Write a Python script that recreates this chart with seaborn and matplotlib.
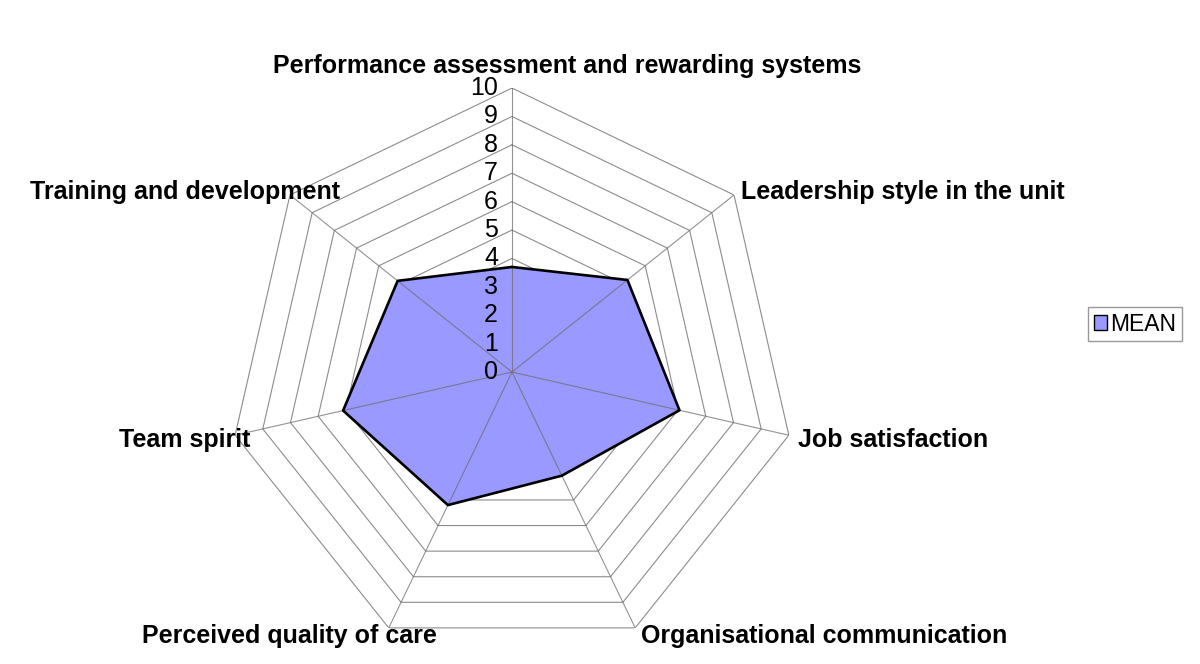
import numpy as np
import pandas as pd
import matplotlib
matplotlib.use("Agg")
import matplotlib.pyplot as plt
import seaborn as sns
from matplotlib.patches import Patch

categories = [
    "Performance assessment and rewarding systems",
    "Leadership style in the unit",
    "Job satisfaction",
    "Organisational communication",
    "Perceived quality of care",
    "Team spirit",
    "Training and development",
]
mean_values = [3.7, 5.2, 6.05, 4.05, 5.2, 6.1, 5.15]
radial_ticks = [0, 1, 2, 3, 4, 5, 6, 7, 8, 9, 10]
series_name = "MEAN"

sns.set_style("white")
plt.rcParams["font.family"] = ["Liberation Sans", "DejaVu Sans"]
plt.rcParams["text.color"] = "black"

fig = plt.figure(figsize=(12, 6.64), dpi=100)
ax = fig.add_axes([0.19, 0.012, 0.4733, 0.8554], projection="polar")
ax.set_theta_zero_location("N")
ax.set_theta_direction(-1)

n = len(categories)
angles = np.arange(n) * 2 * np.pi / n
closed_angles = np.append(angles, 2 * np.pi)

# polygonal grid rings
for r in radial_ticks[1:]:
    ax.plot(closed_angles, [r] * (n + 1), color="#8c8c8c", lw=0.8, zorder=1)

closed_vals = np.append(mean_values, mean_values[0])
ax.fill(closed_angles, closed_vals, color="#9999ff", zorder=2, lw=0)

# spokes
for a in angles:
    ax.plot([a, a], [0, radial_ticks[-1]], color="#6e6e6e", lw=0.8, alpha=0.75, zorder=3)

df = pd.DataFrame({"theta": closed_angles, "r": closed_vals})
sns.lineplot(data=df, x="theta", y="r", sort=False, estimator=None, color="black",
             lw=1.9, ax=ax, zorder=4)

ax.set_ylim(0, radial_ticks[-1])
ax.grid(False)
ax.set_xticks([])
ax.set_yticks([])
ax.set_xlabel("")
ax.set_ylabel("")
ax.spines["polar"].set_visible(False)
ax.patch.set_alpha(0)

# radial tick labels
for r in radial_ticks:
    ax.annotate(str(r), xy=(0, r), xytext=(-10, 0), textcoords="offset points",
                ha="right", va="center", fontsize=18, color="black", zorder=5)

# category labels
label_pos = [
    (567, 66, "center"),
    (741, 192, "left"),
    (798, 440, "left"),
    (641, 636, "left"),
    (437, 636, "right"),
    (250, 440, "right"),
    (340, 192, "right"),
]
W, H = 1200, 664
for cat, (px, py, ha) in zip(categories, label_pos):
    fig.text(px / W, 1 - py / H, cat, ha=ha, va="center", fontsize=18,
             fontweight="bold", color="black")

fig.legend(handles=[Patch(facecolor="#9999ff", edgecolor="black", lw=1.0, label=series_name)],
           loc="center left", bbox_to_anchor=(1088 / W, 1 - 324 / H), frameon=True,
           fancybox=False, edgecolor="#808080", fontsize=16.5, handlelength=0.6,
           handleheight=0.6, handletextpad=0.1, borderpad=0.25, borderaxespad=0,
           labelcolor="black")

fig.savefig("out.png", dpi=100)
